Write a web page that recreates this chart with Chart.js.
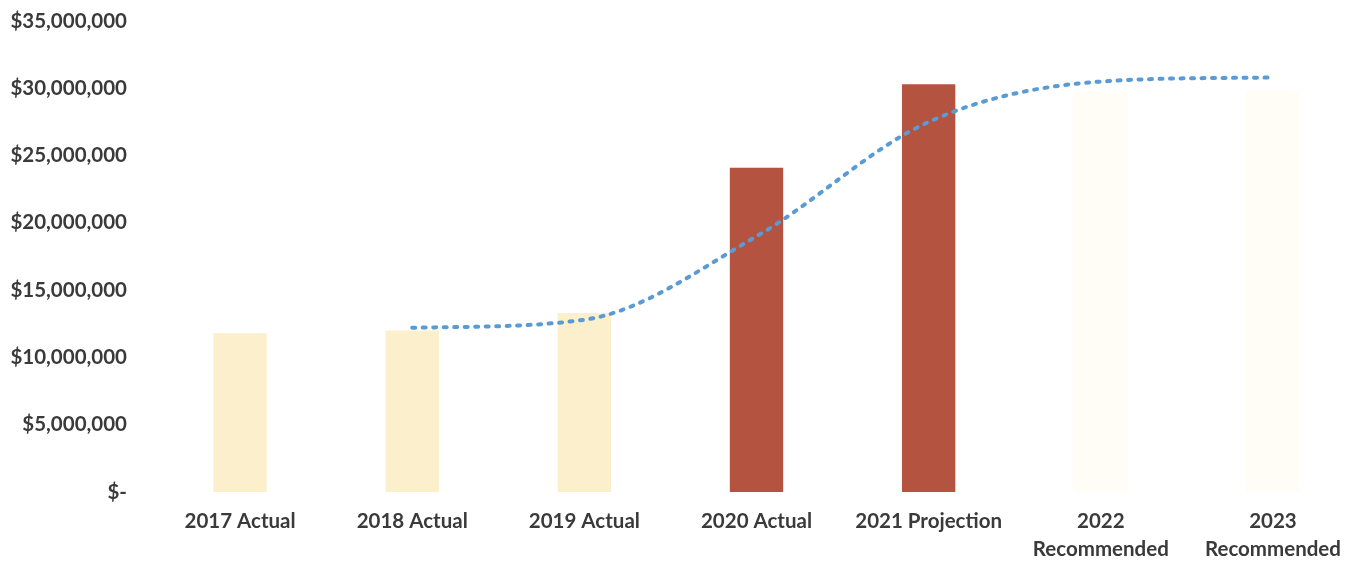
<!DOCTYPE html>
<html>
<head>
<meta charset="utf-8">
<script src="https://cdn.jsdelivr.net/npm/chart.js@4/dist/chart.umd.min.js"></script>
<style>
  html, body { margin: 0; padding: 0; background: #fff; }
  #wrap { width: 1359px; height: 563px; }
</style>
</head>
<body>
<div id="wrap"><canvas id="budget-chart" width="1359" height="563"></canvas></div>
<script>
const categories = [
  "2017 Actual",
  "2018 Actual",
  "2019 Actual",
  "2020 Actual",
  "2021 Projection",
  ["2022", "Recommended"],
  ["2023", "Recommended"],
];
const barValues = [11800000, 12000000, 13300000, 24100000, 30300000, 29700000, 29800000];
const trendValues = [null, 12200000, 12800000, 19000000, 27500000, 30500000, 30800000];
const barColors = ["#fcefcb", "#fcefcb", "#fcefcb", "#b4533f", "#b4533f", "#fffdf5", "#fffdf5"];
const yTicks = [0, 5000000, 10000000, 15000000, 20000000, 25000000, 30000000, 35000000];

const fmtMoney = (v) => (v === 0 ? "$-" : "$" + v.toLocaleString("en-US"));
const labelFont = { family: "Lato", size: 20.5, weight: "bold", lineHeight: 1.35 };

const chartData = {
  labels: categories,
  datasets: [
    {
      type: "line",
      data: trendValues,
      borderColor: "#5b9bd5",
      borderWidth: 4,
      borderDash: [3, 7.5],
      borderCapStyle: "round",
      pointRadius: 0,
      cubicInterpolationMode: "monotone",
      fill: false,
      order: 0,
    },
    {
      type: "bar",
      data: barValues,
      backgroundColor: barColors,
      barPercentage: 0.31,
      categoryPercentage: 1,
      order: 1,
    },
  ],
};

const options = {
  responsive: false,
  animation: false,
  layout: { padding: { left: 10, right: 0, top: 21, bottom: 0 } },
  scales: {
    x: {
      grid: { display: false, drawTicks: false },
      border: { display: false },
      ticks: {
        color: "#3a3a3a",
        font: labelFont,
        padding: 16,
        maxRotation: 0,
        autoSkip: false,
      },
      afterFit: (scale) => {
        scale.height = 71;
        scale.paddingLeft = 0;
        scale.paddingRight = 0;
      },
    },
    y: {
      min: 0,
      max: 35000000,
      afterBuildTicks: (axis) => {
        axis.ticks = yTicks.map((v) => ({ value: v }));
      },
      grid: { display: false, drawTicks: false },
      border: { display: false },
      ticks: {
        color: "#3a3a3a",
        font: { family: "Lato", size: 20.5, weight: "bold" },
        padding: 27,
        callback: (v) => fmtMoney(v),
      },
      afterFit: (scale) => {
        scale.width = 144;
        scale.paddingTop = 0;
        scale.paddingBottom = 0;
      },
    },
  },
  plugins: {
    legend: { display: false },
    tooltip: { enabled: false },
  },
};

new Chart(document.getElementById("budget-chart"), {
  data: chartData,
  options: options,
});
</script>
</body>
</html>
